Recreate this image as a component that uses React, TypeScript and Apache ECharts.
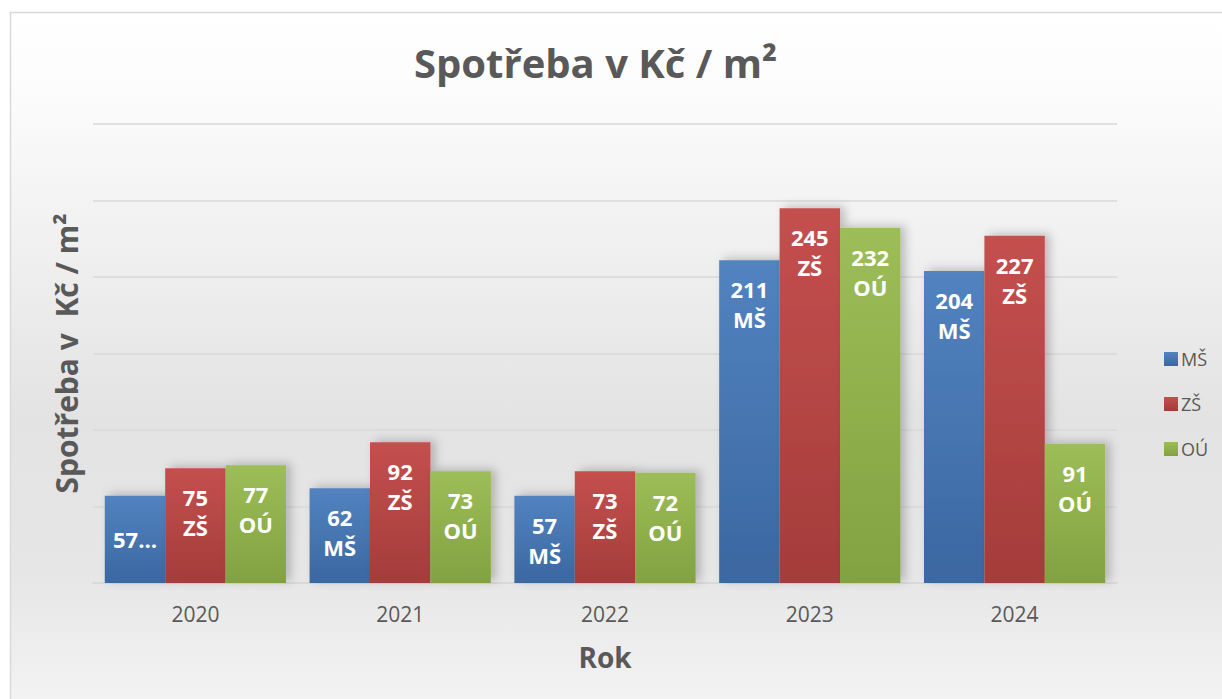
import React, { useEffect, useRef } from "react";
import * as echarts from "echarts";

const years = ["2020", "2021", "2022", "2023", "2024"];
const seriesNames = ["MŠ", "ZŠ", "OÚ"];
const msValues = [57, 62, 57, 211, 204];
const zsValues = [75, 92, 73, 245, 227];
const ouValues = [77, 73, 72, 232, 91];
const yTicks = [0, 50, 100, 150, 200, 250, 300];

const colors = [
  ["#5283c0", "#3b67a0"],
  ["#c4504e", "#a43c3a"],
  ["#9dbd58", "#82a242"],
];

const FONT = "'Open Sans', 'Noto Sans', sans-serif";

export default function App() {
  const ref = useRef<HTMLDivElement>(null);
  useEffect(() => {
    document.body.style.margin = "0";
    if (!ref.current) return;
    const chart = echarts.init(ref.current, undefined, { renderer: "svg" });
    const all = [msValues, zsValues, ouValues];
    const series = all.map((vals, si) => ({
      name: seriesNames[si],
      type: "bar",
      barGap: "0%",
      barCategoryGap: "11.5%",
      data: vals.map((v, i) => {
        const item: any = { value: v };
        if (si === 0 && i === 0) {
          item.label = { position: "inside", formatter: v + "…" };
        }
        return item;
      }),
      itemStyle: {
        color: new echarts.graphic.LinearGradient(0, 0, 0, 1, [
          { offset: 0, color: colors[si][0] },
          { offset: 1, color: colors[si][1] },
        ]),
        shadowColor: "rgba(0,0,0,0.22)",
        shadowBlur: 10,
        shadowOffsetX: 5,
        shadowOffsetY: -2,
      },
      label: {
        show: true,
        position: "insideTop",
        distance: 14,
        color: "#ffffff",
        fontFamily: FONT,
        fontWeight: "bold",
        fontSize: 22,
        lineHeight: 30,
        formatter: (p: any) => p.value + "\n" + seriesNames[si],
      },
    }));
    chart.setOption({
      animation: false,
      graphic: [
        {
          type: "rect",
          z: -10,
          silent: true,
          shape: { x: 10.5, y: 12.5, width: 1400, height: 900 },
          style: {
            fill: new echarts.graphic.LinearGradient(0, 0, 0, 1, [
              { offset: 0, color: "#ffffff" },
              { offset: 0.1, color: "#fbfbfb" },
              { offset: 0.45, color: "#e3e3e3" },
              { offset: 0.62, color: "#e6e6e6" },
              { offset: 0.85, color: "#fafafa" },
              { offset: 1, color: "#ffffff" },
            ]) as any,
            stroke: "#d9d9d9",
            lineWidth: 1.5,
          },
        },
      ],
      title: {
        text: "Spotřeba v Kč / m²",
        left: 414,
        top: 42,
        padding: 0,
        textStyle: {
          fontFamily: FONT,
          fontSize: 40,
          fontWeight: "bold",
          color: "#595959",
        },
      },
      legend: {
        orient: "vertical",
        left: 1159,
        top: 345,
        itemWidth: 14,
        itemHeight: 14,
        itemGap: 27,
        icon: "rect",
        data: seriesNames,
        textStyle: { fontFamily: FONT, fontSize: 18, color: "#595959", padding: [0, 0, 0, -2] },
      },
      grid: { left: 93, right: 105, top: 124, bottom: 116 },
      xAxis: {
        type: "category",
        data: years,
        name: "Rok",
        nameLocation: "middle",
        nameGap: 60,
        nameTextStyle: { fontFamily: FONT, fontSize: 28, fontWeight: "bold", color: "#595959" },
        axisTick: { show: false },
        axisLine: { lineStyle: { color: "#d9d9d9", width: 1.5 } },
        axisLabel: { fontFamily: FONT, fontSize: 21, color: "#595959", margin: 20 },
      },
      yAxis: {
        type: "value",
        min: yTicks[0],
        max: yTicks[yTicks.length - 1],
        interval: yTicks[1] - yTicks[0],
        name: "Spotřeba v  Kč / m²",
        nameLocation: "middle",
        nameGap: 12,
        nameTextStyle: { fontFamily: FONT, fontSize: 30, fontWeight: "bold", color: "#595959" },
        axisLabel: { show: false },
        axisLine: { show: false },
        axisTick: { show: false },
        splitLine: { lineStyle: { color: "#d9d9d9", width: 1.5 } },
      },
      series,
    });
    return () => chart.dispose();
  }, []);
  return <div ref={ref} style={{ width: 1222, height: 699 }} />;
}
